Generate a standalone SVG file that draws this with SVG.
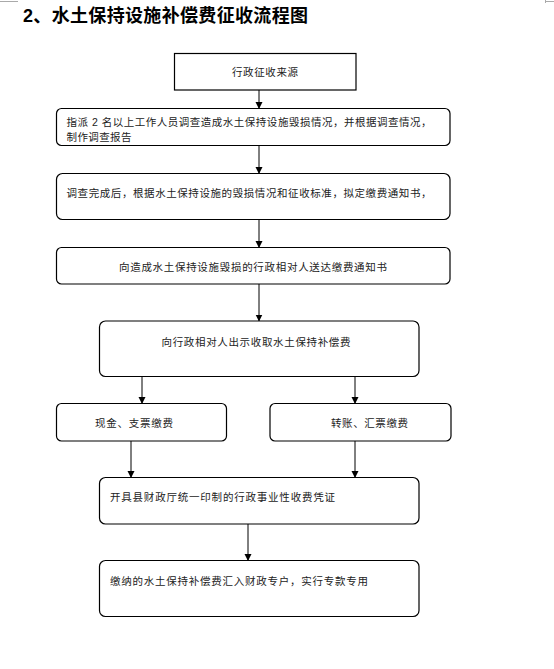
<svg xmlns="http://www.w3.org/2000/svg" width="554" height="669" viewBox="0 0 554 669">
<defs>
<marker id="ah" markerWidth="7" markerHeight="8" refX="6.5" refY="3.5" orient="auto" markerUnits="userSpaceOnUse">
<path d="M0,0 L7,3.5 L0,7 Z" fill="#000"/>
</marker>
<style>
.box{fill:#fff;stroke:#000;stroke-width:1.2}
.t{font-family:"Liberation Sans","Noto Sans CJK SC",sans-serif;font-size:10.5px;fill:#222}
.c{stroke:#000;stroke-width:1;fill:none;marker-end:url(#ah)}
.title{font-family:"Liberation Sans","Noto Sans CJK SC",sans-serif;font-size:18px;font-weight:bold;fill:#000}
</style>
</defs>
<rect width="554" height="669" fill="#fff"/>
<g id="corners" stroke="#aaa" stroke-width="1" fill="none">
<path d="M0,1.5 H18"/>
<path d="M545.5,0 V3 M545,1.5 H554"/>
</g>
<text class="title" x="23" y="22" textLength="285" lengthAdjust="spacing">2、水土保持设施补偿费征收流程图</text>
<g id="connectors">
<path class="c" d="M259,90 V108.5"/>
<path class="c" d="M259,145.5 V173.5"/>
<path class="c" d="M259,219.5 V247.5"/>
<path class="c" d="M259,284 V321"/>
<path class="c" d="M142,376.5 V403.5"/>
<path class="c" d="M355,376.5 V403.5"/>
<path class="c" d="M131,441 V477.5"/>
<path class="c" d="M355,441 V477.5"/>
<path class="c" d="M248,524 V560.5"/>
</g>
<g id="n1">
<rect class="box" x="174.5" y="53.5" width="181.5" height="36.5"/>
<text class="t" x="265" y="75.5" text-anchor="middle" textLength="66" lengthAdjust="spacing">行政征收来源</text>
</g>
<g id="n2">
<rect class="box" x="56.5" y="108.5" width="393.5" height="37" rx="5"/>
<text class="t" x="66.5" y="125.5" textLength="365" lengthAdjust="spacing">指派 2 名以上工作人员调查造成水土保持设施毁损情况，并根据调查情况，</text>
<text class="t" x="66.5" y="140.5" textLength="65" lengthAdjust="spacing">制作调查报告</text>
</g>
<g id="n3">
<rect class="box" x="56.5" y="173.5" width="393.5" height="46" rx="6"/>
<text class="t" x="66.5" y="197" textLength="365" lengthAdjust="spacing">调查完成后，根据水土保持设施的毁损情况和征收标准，拟定缴费通知书，</text>
</g>
<g id="n4">
<rect class="box" x="56.5" y="247.5" width="393.5" height="36.5" rx="5"/>
<text class="t" x="119" y="270.5" textLength="268" lengthAdjust="spacing">向造成水土保持设施毁损的行政相对人送达缴费通知书</text>
</g>
<g id="n5">
<rect class="box" x="99.5" y="321" width="319.5" height="55.5" rx="6"/>
<text class="t" x="161.5" y="345.5" textLength="189" lengthAdjust="spacing">向行政相对人出示收取水土保持补偿费</text>
</g>
<g id="n6a">
<rect class="box" x="56.5" y="403.5" width="170" height="37.5" rx="5"/>
<text class="t" x="95" y="427" textLength="78" lengthAdjust="spacing">现金、支票缴费</text>
</g>
<g id="n6b">
<rect class="box" x="270" y="403.5" width="181" height="37.5" rx="5"/>
<text class="t" x="331" y="427" textLength="77" lengthAdjust="spacing">转账、汇票缴费</text>
</g>
<g id="n7">
<rect class="box" x="99.5" y="477.5" width="319.5" height="46.5" rx="6"/>
<text class="t" x="110" y="501" textLength="225" lengthAdjust="spacing">开具县财政厅统一印制的行政事业性收费凭证</text>
</g>
<g id="n8">
<rect class="box" x="99.5" y="560.5" width="319.5" height="56" rx="6"/>
<text class="t" x="110" y="584.5" textLength="258" lengthAdjust="spacing">缴纳的水土保持补偿费汇入财政专户，实行专款专用</text>
</g>
</svg>
